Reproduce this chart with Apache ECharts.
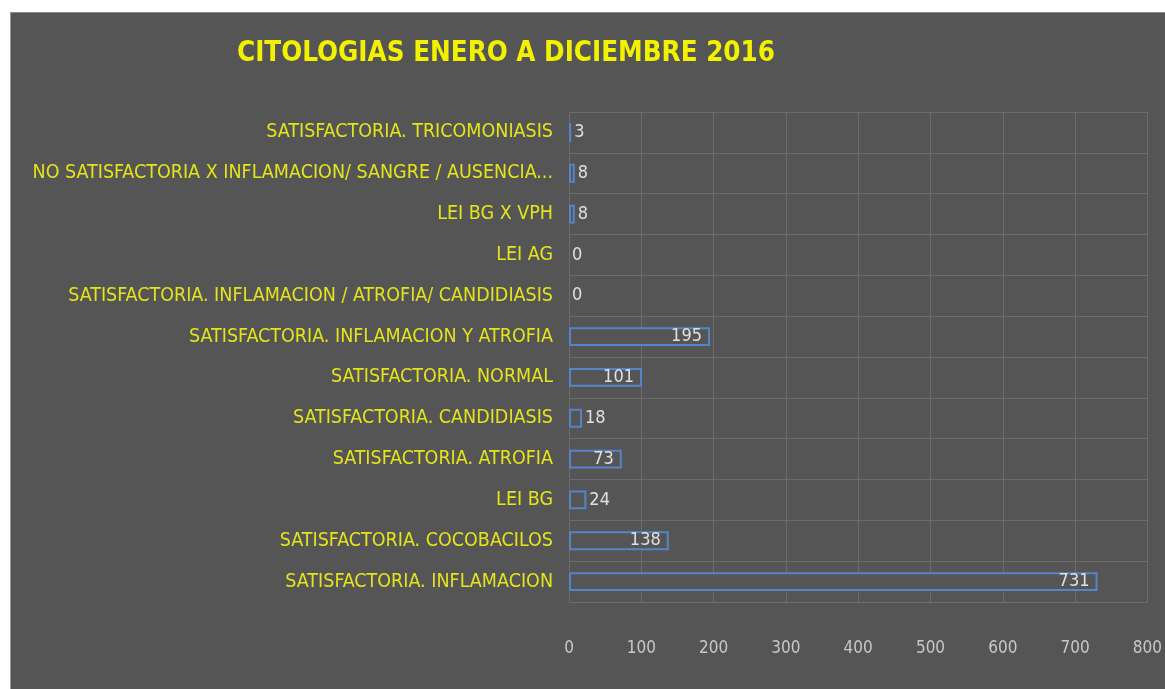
<!DOCTYPE html>
<html>
<head>
<meta charset="utf-8">
<script src="https://cdn.jsdelivr.net/npm/echarts@6/dist/echarts.min.js"></script>
<style>
html,body{margin:0;padding:0;background:#fff;width:1165px;height:689px;overflow:hidden;}
#chart{position:absolute;left:10px;top:12px;width:1155px;height:677px;background:#555555;border-left:1px solid #9a9a9a;border-top:1px solid #8a8a8a;box-sizing:border-box;}
</style>
</head>
<body>
<div id="chart"></div>
<script>
const titleText = 'CITOLOGIAS ENERO A DICIEMBRE 2016';
const categories = [
  'SATISFACTORIA. INFLAMACION',
  'SATISFACTORIA. COCOBACILOS',
  'LEI BG',
  'SATISFACTORIA. ATROFIA',
  'SATISFACTORIA. CANDIDIASIS',
  'SATISFACTORIA. NORMAL',
  'SATISFACTORIA. INFLAMACION Y ATROFIA',
  'SATISFACTORIA. INFLAMACION / ATROFIA/ CANDIDIASIS',
  'LEI AG',
  'LEI BG X VPH',
  'NO SATISFACTORIA X INFLAMACION/ SANGRE / AUSENCIA...',
  'SATISFACTORIA. TRICOMONIASIS'
];
const values = [731, 138, 24, 73, 18, 101, 195, 0, 0, 8, 8, 3];
const xTicks = [0, 100, 200, 300, 400, 500, 600, 700, 800];

const FONT = '"Liberation Sans Narrow", "DejaVu Sans Condensed", "Open Sans", sans-serif';

const seriesData = values.map(v => ({
  value: v,
  itemStyle: v === 0 ? { borderWidth: 0 } : {},
  label: v < 50 ? { position: 'right', distance: 3 } : { position: 'insideRight', distance: 8 }
}));

const chart = echarts.init(document.getElementById('chart'), null, { renderer: 'canvas' });
chart.setOption({
  backgroundColor: '#555555',
  animation: false,
  title: {
    text: titleText,
    left: 221,
    top: 22,
    textStyle: { color: '#f2f200', fontSize: 27.5, fontWeight: 'bold', fontFamily: FONT }
  },
  grid: { left: 558, right: 9, top: 99, bottom: 87, containLabel: false },
  xAxis: {
    type: 'value',
    min: xTicks[0],
    max: xTicks[xTicks.length - 1],
    interval: 100,
    axisLine: { show: false },
    axisTick: { show: false },
    axisLabel: { color: '#c8c8c8', fontSize: 17, fontFamily: FONT, margin: 38 },
    splitLine: { show: true, lineStyle: { color: '#6c6c6c', width: 1 } }
  },
  yAxis: {
    type: 'category',
    data: categories,
    axisLine: { show: false },
    axisTick: { show: false },
    axisLabel: { color: '#e4e41c', fontSize: 19.5, fontFamily: FONT, margin: 16 },
    splitLine: { show: true, lineStyle: { color: '#6c6c6c', width: 1 } }
  },
  series: [{
    type: 'bar',
    data: seriesData,
    barCategoryGap: '54%',
    itemStyle: { color: '#555555', borderColor: '#5585c8', borderWidth: 2 },
    label: { show: true, color: '#e0e0e0', fontSize: 18, fontFamily: FONT }
  }]
});
</script>
</body>
</html>
